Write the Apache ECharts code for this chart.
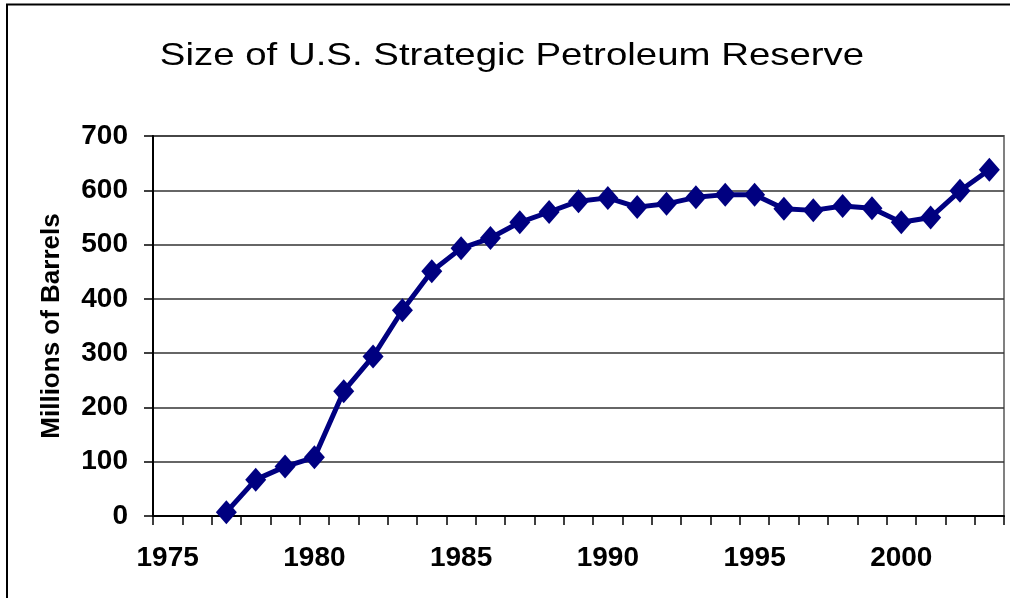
<!DOCTYPE html>
<html>
<head>
<meta charset="utf-8">
<title>Size of U.S. Strategic Petroleum Reserve</title>
<script src="https://cdn.jsdelivr.net/npm/echarts@6/dist/echarts.min.js"></script>
<style>
  html, body { margin: 0; padding: 0; background: #fff; }
  #chart { width: 1010px; height: 598px; }
</style>
</head>
<body>
<div id="chart"></div>
<script>
// Year categories along the horizontal axis
const years = [
  '1975', '1976', '1977', '1978', '1979', '1980', '1981', '1982', '1983', '1984',
  '1985', '1986', '1987', '1988', '1989', '1990', '1991', '1992', '1993', '1994',
  '1995', '1996', '1997', '1998', '1999', '2000', '2001', '2002', '2003'
];

// Reserve size at year end, millions of barrels (no reserve before 1977)
const reserveSize = [
  null, null, 7, 67, 91, 108, 230, 294, 379, 451,
  493, 512, 541, 560, 580, 586, 569, 575, 587, 592,
  592, 566, 563, 571, 567, 541, 550, 599, 638
];

// Value axis ticks
const yTicks = [0, 100, 200, 300, 400, 500, 600, 700];

const titleText = 'Size of U.S. Strategic Petroleum Reserve';
const yAxisTitle = 'Millions of Barrels';

const chart = echarts.init(document.getElementById('chart'), null, { renderer: 'canvas' });

const labelFont = {
  fontFamily: 'Liberation Sans, Arial, sans-serif',
  fontWeight: 'bold',
  fontSize: 28,
  color: '#000'
};

chart.setOption({
  animation: false,
  backgroundColor: '#fff',
  grid: {
    left: 153,
    right: 6,
    top: 136,
    bottom: 82,
    show: true,
    borderColor: '#808080',
    borderWidth: 2,
    backgroundColor: 'transparent'
  },
  graphic: [
    {
      // outer chart frame
      type: 'rect',
      shape: { x: 7, y: 4.5, width: 1200, height: 800 },
      style: { fill: 'none', stroke: '#000', lineWidth: 2 },
      silent: true,
      z: 0
    },
    {
      type: 'text',
      x: 512,
      y: 56,
      scaleX: 1.2,
      style: {
        text: titleText,
        textAlign: 'center',
        textVerticalAlign: 'middle',
        font: '32px "Liberation Sans", Arial, sans-serif',
        fill: '#000'
      },
      z: 10
    }
  ],
  xAxis: {
    type: 'category',
    data: years,
    boundaryGap: true,
    axisLine: { show: true, lineStyle: { color: '#000', width: 2 } },
    axisTick: {
      show: true,
      interval: 0,
      alignWithLabel: false,
      length: 9,
      lineStyle: { color: '#000', width: 1.5 }
    },
    axisLabel: Object.assign({ interval: 4, margin: 28 }, labelFont),
    splitLine: { show: false }
  },
  yAxis: {
    type: 'value',
    min: yTicks[0],
    max: yTicks[yTicks.length - 1],
    interval: yTicks[1] - yTicks[0],
    name: yAxisTitle,
    nameLocation: 'middle',
    nameGap: 88,
    nameRotate: 90,
    nameTextStyle: {
      fontFamily: 'Liberation Sans, Arial, sans-serif',
      fontWeight: 'bold',
      fontSize: 26,
      color: '#000'
    },
    axisLine: { show: true, lineStyle: { color: '#000', width: 2 } },
    axisTick: { show: true, length: 9, lineStyle: { color: '#000', width: 1.5 } },
    axisLabel: Object.assign({ margin: 25 }, labelFont),
    splitLine: { show: true, lineStyle: { color: '#333', width: 1.5 } }
  },
  series: [
    {
      type: 'line',
      data: reserveSize,
      connectNulls: false,
      showAllSymbol: true,
      lineStyle: { color: '#000080', width: 5 },
      itemStyle: { color: '#000080' },
      symbol: 'diamond',
      symbolSize: [21, 24],
      z: 5
    }
  ]
});
</script>
</body>
</html>
